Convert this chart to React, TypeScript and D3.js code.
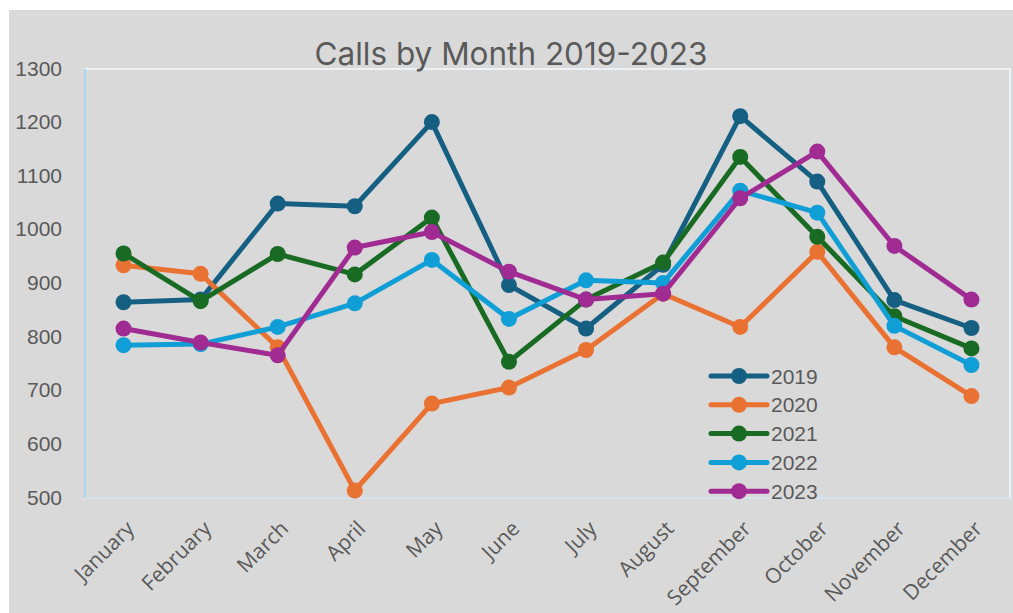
import React from "react";
import * as d3 from "d3";

const months = ["January","February","March","April","May","June","July","August","September","October","November","December"];
const yTicks = [500, 600, 700, 800, 900, 1000, 1100, 1200, 1300];

const s2019 = [865, 870, 1049, 1044, 1201, 897, 816, 935, 1212, 1090, 869, 817];
const s2020 = [934, 918, 781, 514, 676, 706, 776, 881, 819, 959, 781, 690];
const s2021 = [956, 867, 955, 917, 1023, 754, 870, 939, 1136, 987, 839, 779];
const s2022 = [785, 787, 819, 863, 944, 834, 906, 901, 1073, 1032, 821, 748];
const s2023 = [816, 790, 766, 967, 996, 922, 870, 881, 1059, 1146, 970, 870];

const seriesNames = ["2019", "2020", "2021", "2022", "2023"];
const seriesData = [s2019, s2020, s2021, s2022, s2023];
const colors = ["#156082", "#E97132", "#196B24", "#0F9ED5", "#A02B93"];

const W = 1013, H = 613;
const plot = { left: 85, right: 1010, top: 69, bottom: 498 };
const textColor = "#595959";
const axisFont = "'Liberation Sans', Arial, sans-serif";

export default function App() {
  const x = d3.scaleBand<string>().domain(months).range([plot.left, plot.right]);
  const y = d3.scaleLinear().domain([500, 1300]).range([plot.bottom, plot.top]);
  const cx = (m: string) => (x(m) ?? 0) + x.bandwidth() / 2;
  const line = d3.line<number>().x((_, i) => cx(months[i])).y((d) => y(d));

  return (
    <svg width={W} height={H} style={{ position: "absolute", left: 0, top: 0, background: "#fff" }}>
      <rect x={9} y={10} width={W - 9} height={H - 10} fill="#D9D9D9" />
      <rect x={plot.left} y={plot.top} width={plot.right - plot.left} height={plot.bottom - plot.top}
        fill="none" stroke="#ECF1F6" strokeWidth={2} />
      <line x1={plot.left} x2={plot.left} y1={plot.top} y2={plot.bottom} stroke="#A8D6F3" strokeWidth={2} />
      <line x1={plot.left} x2={plot.right} y1={plot.bottom} y2={plot.bottom} stroke="#CBDDEA" strokeWidth={1.5} />

      <text x={511} y={65} textAnchor="middle" fontFamily="Inter, 'Open Sans', sans-serif" fontSize={31.5} fill={textColor}>
        Calls by Month 2019-2023
      </text>

      {yTicks.map((t) => (
        <text key={t} x={62} y={y(t) - 1} textAnchor="end" dominantBaseline="central" fontFamily={axisFont} fontSize={21} fill={textColor}>
          {t}
        </text>
      ))}

      {months.map((m) => {
        const px = cx(m) + 12;
        const py = 530;
        return (
          <text key={m} x={px} y={py} textAnchor="end" transform={`rotate(-45 ${px} ${py})`}
            fontFamily="'Open Sans', sans-serif" fontSize={21} fill={textColor}>
            {m}
          </text>
        );
      })}

      {seriesData.map((vals, si) => (
        <g key={seriesNames[si]}>
          <path d={line(vals) ?? ""} fill="none" stroke={colors[si]} strokeWidth={5} strokeLinejoin="round" strokeLinecap="round" />
          {vals.map((v, i) => (
            <circle key={i} cx={cx(months[i])} cy={y(v)} r={8} fill={colors[si]} />
          ))}
        </g>
      ))}

      {seriesNames.map((n, i) => {
        const ly = 376 + i * 28.8;
        return (
          <g key={n}>
            <line x1={711} x2={767} y1={ly} y2={ly} stroke={colors[i]} strokeWidth={5} strokeLinecap="round" />
            <circle cx={739} cy={ly} r={8} fill={colors[i]} />
            <text x={771} y={ly} dominantBaseline="central" fontFamily={axisFont} fontSize={21} fill={textColor}>{n}</text>
          </g>
        );
      })}
    </svg>
  );
}
